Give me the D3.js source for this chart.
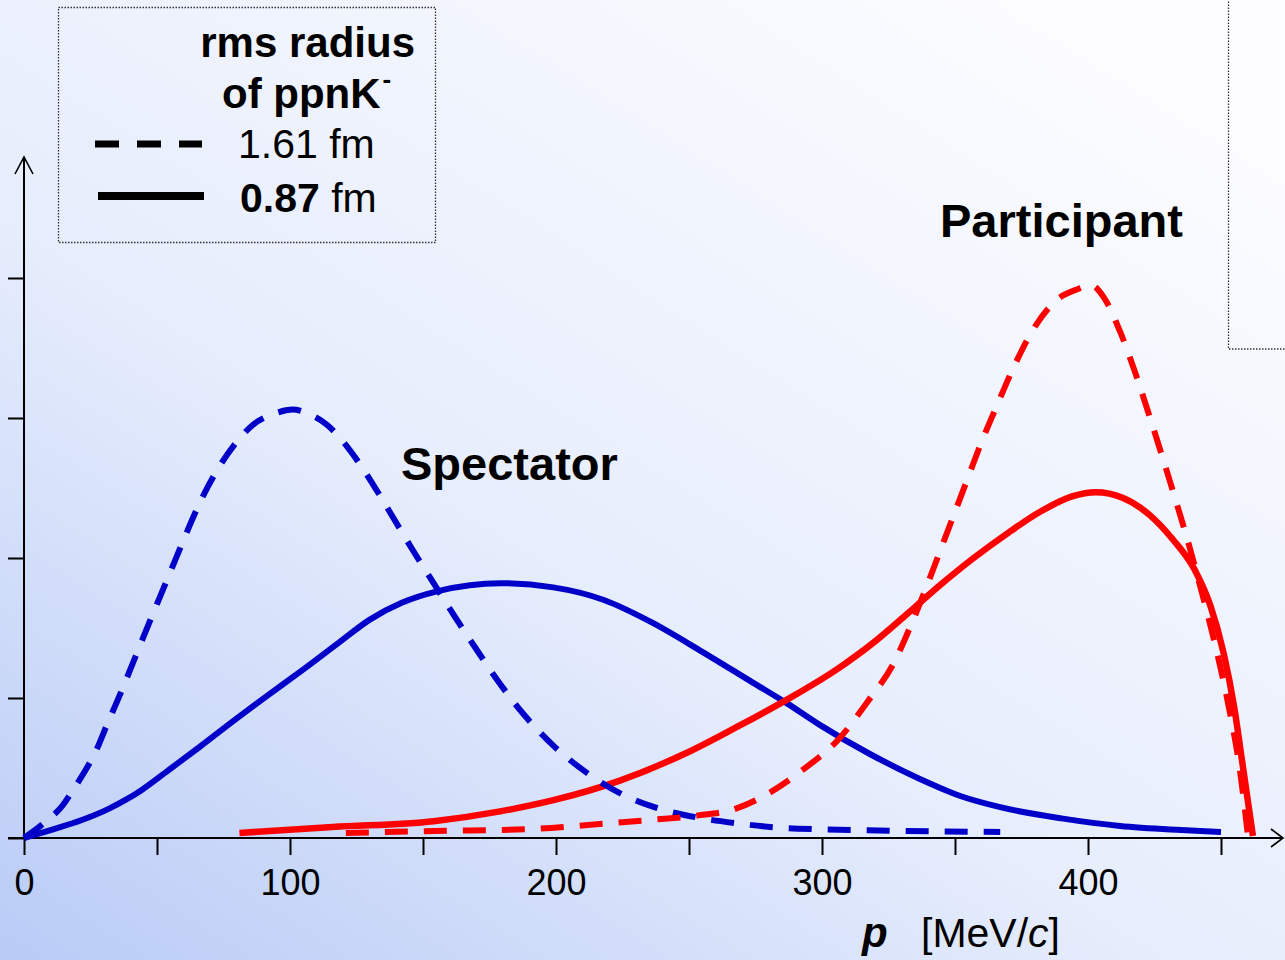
<!DOCTYPE html>
<html><head><meta charset="utf-8">
<script src="https://cdn.jsdelivr.net/npm/d3@7"></script>
<style>
body{margin:0;background:#fff;}
svg{display:block;font-family:"Liberation Sans",Arial,Helvetica,sans-serif;}
</style>
</head><body>
<svg id="chart" width="1285" height="960"></svg>
<script>
// ---------- data ----------
const xTickValues = [0, 50, 100, 150, 200, 250, 300, 350, 400, 450];
const xTickLabels = ["0", "", "100", "", "200", "", "300", "", "400", ""];
const yTickValues = [0, 1, 2, 3, 4];

// Spectator, rms radius 1.61 fm (dashed blue)  [p (MeV/c), yield]
const spectatorWide = [[0,0],[9,0.13],[14,0.22],[19,0.36],[23,0.48],[27,0.62],[31,0.80],[36,1.02],[42,1.30],[48,1.58],[55,1.90],[60,2.13],[67,2.43],[74,2.67],[80,2.83],[86,2.95],[94,3.03],[101,3.06],[107,3.03],[114,2.95],[120,2.83],[127,2.65],[134,2.44],[140,2.25],[147,2.03],[154,1.82],[161,1.61],[170,1.35],[179,1.10],[188,0.88],[199,0.66],[212,0.46],[224,0.32],[237,0.22],[255,0.14],[268,0.105],[283,0.075],[299,0.062],[317,0.055],[367,0.043]];
// Spectator, rms radius 0.87 fm (solid blue)
const spectatorCompact = [[0,0],[10,0.057],[22,0.13],[32,0.21],[38,0.27],[44,0.34],[54,0.48],[66,0.65],[79,0.84],[91,1.01],[104,1.19],[118,1.39],[130,1.56],[142,1.68],[156,1.765],[179,1.82],[199,1.79],[218,1.70],[236,1.54],[255,1.33],[274,1.11],[287,0.96],[299,0.81],[318,0.60],[337,0.42],[352,0.30],[367,0.22],[390,0.14],[412,0.086],[435,0.057],[450,0.043]];
// Participant, rms radius 1.61 fm (dashed red)
const participantWide = [[121,0.036],[154,0.05],[191,0.064],[212,0.093],[236,0.13],[253,0.16],[266,0.2],[280,0.32],[293,0.49],[306,0.70],[317,0.97],[327,1.25],[333,1.50],[339,1.78],[344,2.03],[349,2.28],[355,2.58],[360,2.83],[366,3.10],[372,3.36],[379,3.62],[388,3.84],[396,3.92],[401,3.95],[406,3.86],[412,3.62],[418,3.31],[423,3.02],[428,2.72],[433,2.41],[438,2.09],[442,1.81],[446,1.52],[450,1.20],[453,0.93],[457,0.50],[460,0.04]];
// Participant, rms radius 0.87 fm (solid red)
const participantCompact = [[81,0.036],[116,0.079],[154,0.12],[179,0.19],[199,0.27],[224,0.41],[249,0.607],[268,0.793],[287,0.99],[306,1.21],[319,1.39],[332,1.60],[344,1.80],[357,2.0],[370,2.18],[382,2.33],[394,2.44],[403,2.47],[413,2.43],[423,2.31],[432,2.13],[440,1.92],[446,1.66],[451,1.32],[455,0.93],[458,0.54],[462,0.014]];

const legendTitle1 = "rms radius";
const legendTitle2 = "of ppnK";
const legendWide = "1.61 fm";
const legendCompactNum = "0.87";
const legendUnit = " fm";
const xTitleVar = "p";

// ---------- drawing ----------
const svg = d3.select("#chart");
const W = 1285, H = 960;

// background gradient
const defs = svg.append("defs");
const grad = defs.append("linearGradient").attr("id","bg")
  .attr("x1","0").attr("y1","1").attr("x2","0.85").attr("y2","0");
grad.append("stop").attr("offset","0").attr("stop-color","#b9cbf6");
grad.append("stop").attr("offset","0.45").attr("stop-color","#e6edfc");
grad.append("stop").attr("offset","1").attr("stop-color","#fdfdff");
svg.append("rect").attr("width",W).attr("height",H).attr("fill","url(#bg)");

const x = d3.scaleLinear().domain([0, 475]).range([24, 24 + 475 * 2.66]);
const y = d3.scaleLinear().domain([0, 5]).range([838, 138]);

// right top dotted box
svg.append("rect").attr("x",1228.5).attr("y",-10).attr("width",120).attr("height",359)
  .attr("fill","none").attr("stroke","#333").attr("stroke-width",1.3).attr("stroke-dasharray","1.5,1.5");

// legend box
svg.append("rect").attr("x",58.5).attr("y",7.5).attr("width",377).attr("height",235)
  .attr("fill","none").attr("stroke","#333").attr("stroke-width",1.3).attr("stroke-dasharray","1.5,1.5");

// axes lines
const axisG = svg.append("g").attr("stroke","#000").attr("fill","none");
axisG.append("line").attr("x1",8).attr("x2",1283).attr("y1",y(0)).attr("y2",y(0)).attr("stroke-width",2);
axisG.append("path").attr("d",`M1271,829 L1283,838 L1271,847`).attr("stroke-width",1.6);
axisG.append("line").attr("x1",x(0)).attr("x2",x(0)).attr("y1",y(0)).attr("y2",158).attr("stroke-width",2);
axisG.append("path").attr("d",`M${x(0)-9},174 L${x(0)},157 L${x(0)+9},174`).attr("stroke-width",1.6);

// x axis ticks
const xAxis = d3.axisBottom(x).tickValues(xTickValues).tickSize(17).tickPadding(14)
  .tickFormat((d,i) => xTickLabels[i]);
const gx = svg.append("g").attr("transform",`translate(0,${y(0)})`).call(xAxis);
gx.select(".domain").remove();
gx.selectAll(".tick line").attr("stroke","#000").attr("stroke-width",2);
gx.selectAll(".tick text").attr("font-size",36).attr("fill","#000")
  .attr("font-family","'Liberation Sans',Arial,sans-serif");

// y axis ticks (no labels)
const yAxis = d3.axisLeft(y).tickValues(yTickValues).tickSize(16).tickFormat("");
const gy = svg.append("g").attr("transform",`translate(${x(0)},0)`).call(yAxis);
gy.select(".domain").remove();
gy.selectAll(".tick line").attr("stroke","#000").attr("stroke-width",2);

// curves
const line = d3.line().x(d => x(d[0])).y(d => y(d[1])).curve(d3.curveMonotoneX);
const blue = "#0000c8", red = "#ff0000";
const series = [
  {data: spectatorCompact, color: blue, dash: null, w: 6},
  {data: participantCompact, color: red, dash: null, w: 6.5},
  {data: spectatorWide, color: blue, dash: "23,16", w: 6},
  {data: participantWide, color: red, dash: "23,16", w: 6},
];
svg.append("g").selectAll("path").data(series).join("path")
  .attr("d", d => line(d.data))
  .attr("fill","none")
  .attr("stroke", d => d.color)
  .attr("stroke-width", d => d.w)
  .attr("stroke-dasharray", d => d.dash)
  .attr("stroke-linejoin","round");

// labels
svg.append("text").attr("x",401).attr("y",480).attr("font-size",47).attr("font-weight","bold")
  .attr("fill","#000").text("Spectator");
svg.append("text").attr("x",940).attr("y",237).attr("font-size",47).attr("font-weight","bold")
  .attr("fill","#000").text("Participant");

// legend
const lg = svg.append("g").attr("fill","#000");
lg.append("text").attr("x",415).attr("y",57).attr("text-anchor","end")
  .attr("font-size",42).attr("font-weight","bold").text(legendTitle1);
const t2 = lg.append("text").attr("x",222).attr("y",108).attr("font-size",42).attr("font-weight","bold");
t2.append("tspan").text(legendTitle2);
t2.append("tspan").attr("dx",2).attr("dy",-20).attr("font-size",26).text("-");
lg.append("text").attr("x",238).attr("y",158).attr("font-size",41).text(legendWide);
const t4 = lg.append("text").attr("x",240).attr("y",212).attr("font-size",41);
t4.append("tspan").attr("font-weight","bold").text(legendCompactNum);
t4.append("tspan").text(legendUnit);
lg.append("line").attr("x1",95).attr("x2",202).attr("y1",144).attr("y2",144)
  .attr("stroke","#000").attr("stroke-width",7).attr("stroke-dasharray","24,18");
lg.append("line").attr("x1",98).attr("x2",204).attr("y1",196).attr("y2",196)
  .attr("stroke","#000").attr("stroke-width",8);

// x axis title
const xt = svg.append("g").attr("fill","#000");
xt.append("text").attr("x",862).attr("y",947).attr("font-size",42)
  .attr("font-weight","bold").attr("font-style","italic").text(xTitleVar);
const xt2 = xt.append("text").attr("x",921).attr("y",947).attr("font-size",41);
xt2.append("tspan").text("[MeV/");
xt2.append("tspan").attr("font-style","italic").text("c");
xt2.append("tspan").text("]");
</script>
</body></html>
